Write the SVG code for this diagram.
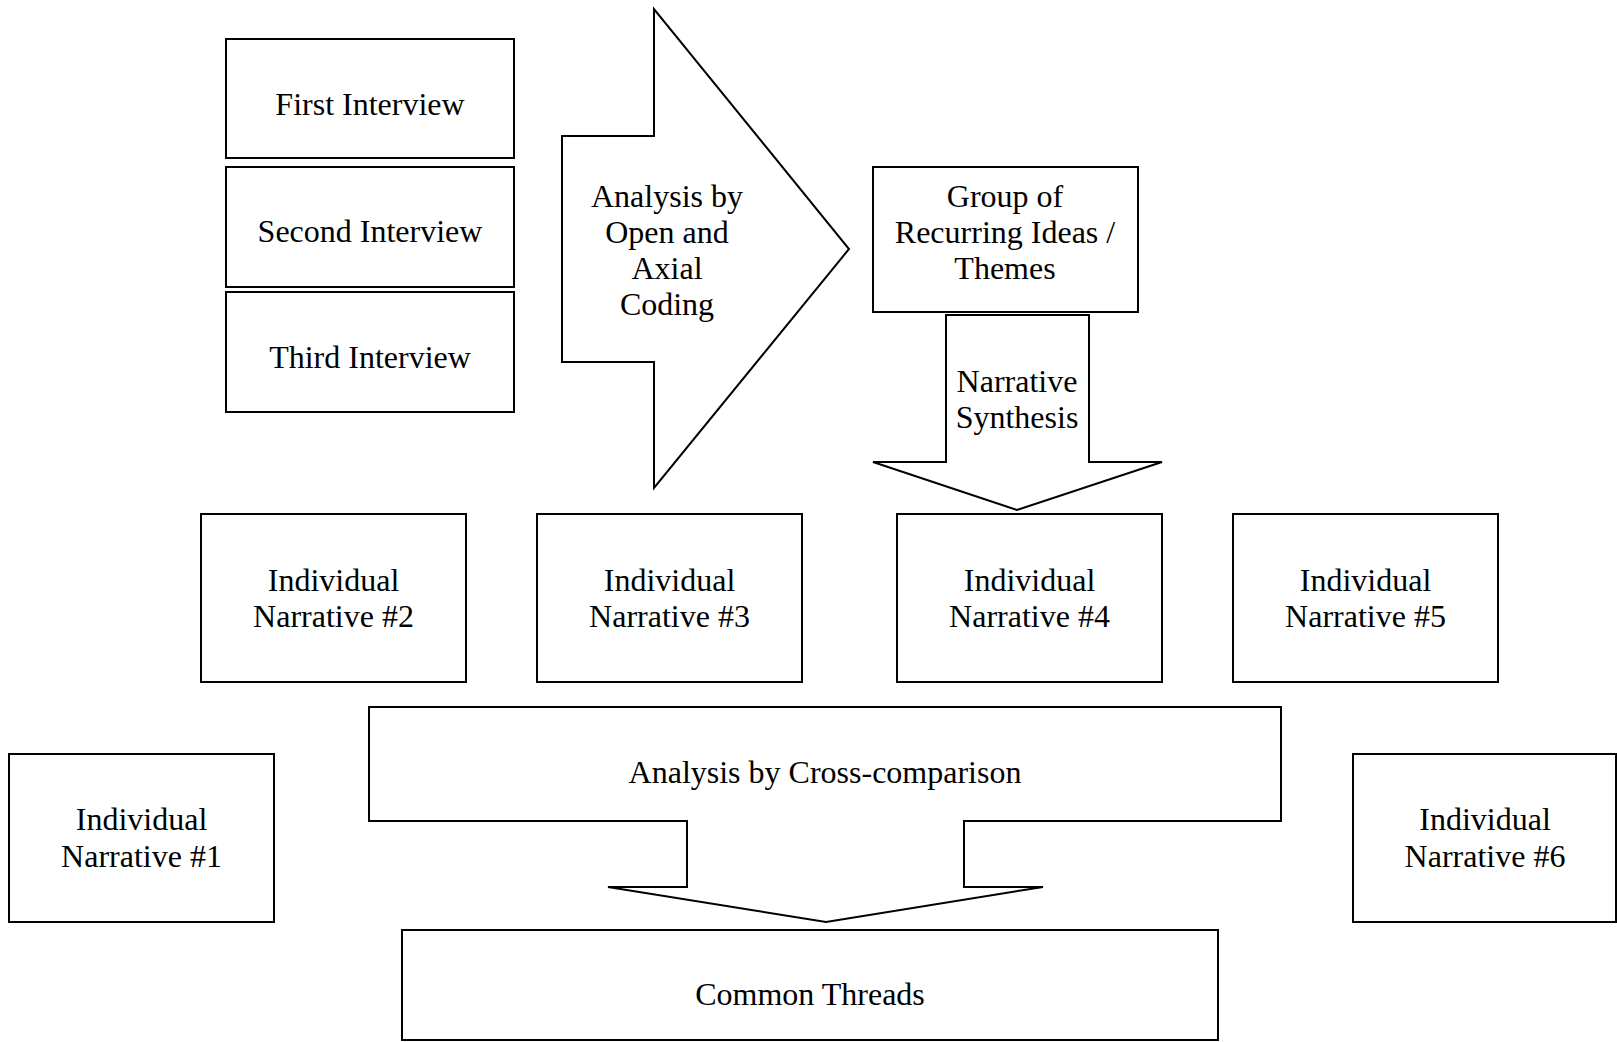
<svg xmlns="http://www.w3.org/2000/svg" width="1617" height="1042" viewBox="0 0 1617 1042">
<style>
.box{fill:#fff;stroke:#000;stroke-width:2}
.arr{fill:#fff;stroke:#000;stroke-width:2;stroke-linejoin:miter}
text{font-family:"Liberation Serif","Times New Roman",serif;font-size:32px;fill:#000;text-anchor:middle}
</style>
<rect width="1617" height="1042" fill="#fff"/>
<g id="connectors">
<g id="arrow-coding">
<polygon class="arr" points="562,136 654,136 654,9 849,249 654,488 654,362 562,362"/>
<text x="667" y="207">Analysis by</text>
<text x="667" y="243">Open and</text>
<text x="667" y="279">Axial</text>
<text x="667" y="315">Coding</text>
</g>
<g id="arrow-synthesis">
<polygon class="arr" points="946,315 1089,315 1089,462 1162,462 1017,510 873,462 946,462"/>
<text x="1017" y="392">Narrative</text>
<text x="1017" y="428">Synthesis</text>
</g>
<g id="arrow-cross">
<polygon class="arr" points="369,707 1281,707 1281,821 964,821 964,887 1043,887 826,922 608,887 687,887 687,821 369,821"/>
<text x="825" y="783">Analysis by Cross-comparison</text>
</g>
</g>
<g id="first-interview"><rect class="box" x="226" y="39" width="288" height="119"/><text x="370" y="115">First Interview</text></g>
<g id="second-interview"><rect class="box" x="226" y="167" width="288" height="120"/><text x="370" y="242">Second Interview</text></g>
<g id="third-interview"><rect class="box" x="226" y="292" width="288" height="120"/><text x="370" y="368">Third Interview</text></g>
<g id="group-themes"><rect class="box" x="873" y="167" width="265" height="145"/>
<text x="1005" y="207">Group of</text>
<text x="1005" y="243">Recurring Ideas /</text>
<text x="1005" y="279">Themes</text></g>
<g id="narrative-1"><rect class="box" x="9" y="754" width="265" height="168"/><text x="141.5" y="830">Individual</text><text x="141.5" y="867">Narrative #1</text></g>
<g id="narrative-2"><rect class="box" x="201" y="514" width="265" height="168"/><text x="333.5" y="591">Individual</text><text x="333.5" y="627">Narrative #2</text></g>
<g id="narrative-3"><rect class="box" x="537" y="514" width="265" height="168"/><text x="669.5" y="591">Individual</text><text x="669.5" y="627">Narrative #3</text></g>
<g id="narrative-4"><rect class="box" x="897" y="514" width="265" height="168"/><text x="1029.5" y="591">Individual</text><text x="1029.5" y="627">Narrative #4</text></g>
<g id="narrative-5"><rect class="box" x="1233" y="514" width="265" height="168"/><text x="1365.5" y="591">Individual</text><text x="1365.5" y="627">Narrative #5</text></g>
<g id="narrative-6"><rect class="box" x="1353" y="754" width="263" height="168"/><text x="1485" y="830">Individual</text><text x="1485" y="867">Narrative #6</text></g>
<g id="common-threads"><rect class="box" x="402" y="930" width="816" height="110"/><text x="810" y="1005">Common Threads</text></g>
</svg>
